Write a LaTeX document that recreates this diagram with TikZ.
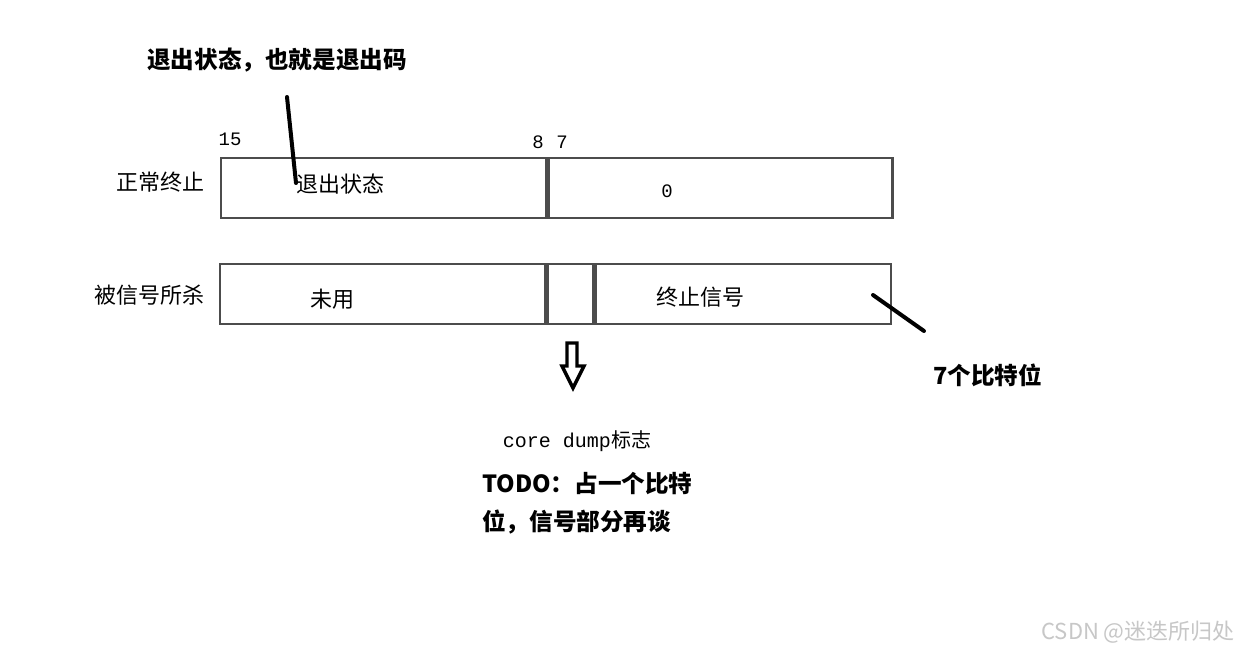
\documentclass[tikz,border=0pt]{standalone}
\usepackage{fontspec}
\setmainfont{Noto Sans CJK SC}
\newfontfamily\monofont{Liberation Mono}

\begin{document}
\begin{tikzpicture}[x=1pt, y=-1pt,
  cell/.style={draw=black!70, line width=2.4pt, minimum height=60pt, inner sep=0pt, anchor=north west},
  lbl/.style={font=\fontsize{22}{26}\selectfont, inner sep=0pt},
  bitno/.style={font=\monofont\fontsize{19}{22}\selectfont, inner sep=0pt},
  note/.style={font=\fontsize{23.6}{28}\selectfont\bfseries, inner sep=0pt, anchor=west},
  lead/.style={line width=4pt, line cap=round}]

\useasboundingbox (0,0) rectangle (1240,650);
\fill[white] (0,0) rectangle (1240,650);

% top row: normal exit
\node[cell, minimum width=325pt] (exitcell) at (220,157) {};
\node[cell, minimum width=344pt] (zerocell) at (exitcell.north east) {};

% bottom row: killed by signal
\node[cell, minimum width=325pt] (unused) at (219,263) {};
\node[cell, minimum width=46pt] (coreflag) at (unused.north east) {};
\node[cell, minimum width=295pt] (sigcell) at (coreflag.north east) {};

\node[lbl, anchor=east] (normal) at (205,182) {正常终止};
\node[lbl, anchor=east] (killed) at (205,295) {被信号所杀};

\node[bitno] (b15) at (230,139) {15};
\node[bitno] (b8) at (538,142) {8};
\node[bitno] (b7) at (562,142) {7};

\node[lbl] (exittxt) at (340,184) {退出状态};
\node[bitno] (zero) at (667,191) {0};
\node[lbl] (unusedtxt) at (332,299) {未用};
\node[lbl] (sigtxt) at (700,297) {终止信号};

% notes
\node[note] (exitnote) at (147,60) {退出状态，也就是退出码};
\node[note] (bitsnote) at (933,375) {7个比特位};
\node[inner sep=0pt, font=\fontsize{20}{24}\selectfont] (corenote) at (577,441) {{\monofont core dump}标志};
\node[note] (todo1) at (482,484) {TODO：占一个比特};
\node[note] (todo2) at (482,522) {位，信号部分再谈};

\node[inner sep=0pt, anchor=east, text=black!22, font=\fontsize{22}{26}\selectfont] (mark) at (1235,632) {CSDN @迷迭所归处};

% leader lines
\coordinate (exitA) at (287,97);
\coordinate (exitB) at (296,183);
\coordinate (bitsA) at (873,295);
\coordinate (bitsB) at (924,331);
\draw[lead] (exitA) -- (exitB);
\draw[lead] (bitsA) -- (bitsB);

% hollow arrow to core dump flag
\draw[line width=3.4pt] (567,343) -- (577,343) -- (577,366) -- (584,366) -- (573,388) -- (562,366) -- (567,366) -- cycle;

\end{tikzpicture}
\end{document}
